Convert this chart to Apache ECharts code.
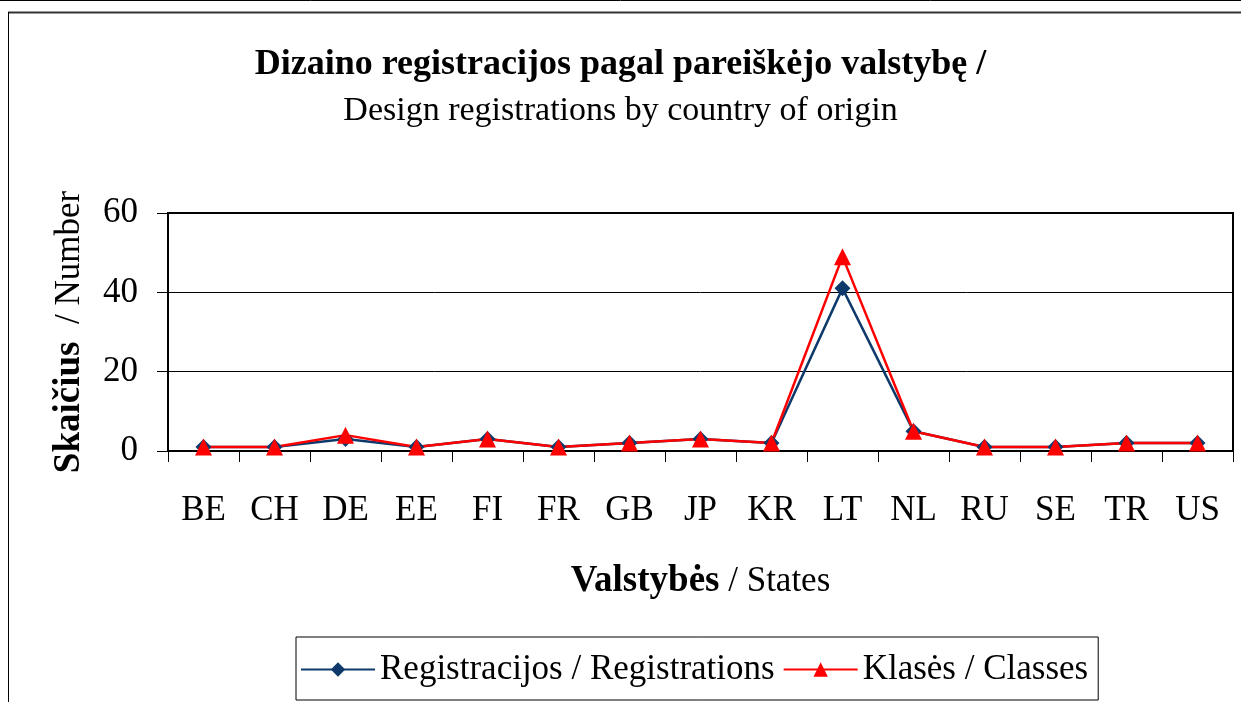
<!doctype html>
<html>
<head>
    <meta charset="utf-8">
    <title>Dizaino registracijos</title>
    <script src="https://cdn.jsdelivr.net/npm/echarts@6/dist/echarts.min.js"></script>
    <style>
        html, body { margin: 0; padding: 0; background: #fff; }
    </style>
</head>
<body>
    <div id="main" style="width: 1241px;height:702px;"></div>
</body>
<script type="text/javascript">
    // valstybes / states
    var states = ['BE', 'CH', 'DE', 'EE', 'FI', 'FR', 'GB', 'JP', 'KR', 'LT', 'NL', 'RU', 'SE', 'TR', 'US'];
    var registrations = [1, 1, 3, 1, 3, 1, 2, 3, 2, 41, 5, 1, 1, 2, 2];
    var classes = [1, 1, 4, 1, 3, 1, 2, 3, 2, 49, 5, 1, 1, 2, 2];
    var yTicks = [0, 20, 40, 60];

    var serif = '"Liberation Serif", "DejaVu Serif", serif';
    var myChart = echarts.init(document.getElementById('main'));

    var option = {
        backgroundColor: '#fff',
        animation: false,
        title: [{
            text: 'Dizaino registracijos pagal pareiškėjo valstybę /',
            left: 'center',
            top: 42,
            textStyle: { fontFamily: serif, fontSize: 36, fontWeight: 'bold', color: '#000' }
        }, {
            text: 'Design registrations by country of origin',
            left: 'center',
            top: 89,
            textStyle: { fontFamily: serif, fontSize: 34, fontWeight: 'normal', color: '#000' }
        }],
        graphic: [
            { type: 'line', shape: { x1: 0, y1: 0.5, x2: 1241, y2: 0.5 }, style: { stroke: '#000', lineWidth: 1 } },
            { type: 'line', shape: { x1: 8, y1: 12.5, x2: 1241, y2: 12.5 }, style: { stroke: '#333', lineWidth: 2 } },
            { type: 'line', shape: { x1: 8.5, y1: 12, x2: 8.5, y2: 702 }, style: { stroke: '#000', lineWidth: 1 } }
        ],
        legend: {
            top: 637,
            left: 296,
            itemWidth: 74,
            itemHeight: 18,
            itemGap: 8,
            padding: [15, 10, 13, 4],
            borderColor: '#000',
            borderWidth: 1,
            textStyle: { fontFamily: serif, fontSize: 35, color: '#000' },
            data: ['Registracijos / Registrations', 'Klasės / Classes']
        },
        grid: {
            left: 168,
            right: 8,
            top: 213,
            bottom: 251,
            show: true,
            borderColor: '#000',
            borderWidth: 2,
            containLabel: false
        },
        xAxis: {
            type: 'category',
            data: states,
            boundaryGap: true,
            name: '{b|Valstybės} / States',
            nameLocation: 'middle',
            nameGap: 112,
            nameTextStyle: {
                fontFamily: serif, fontSize: 35, color: '#000',
                rich: { b: { fontFamily: serif, fontSize: 37, fontWeight: 'bold', color: '#000' } }
            },
            axisLine: { lineStyle: { color: '#000', width: 2 } },
            axisTick: { show: true, length: 11, lineStyle: { color: '#000', width: 1 } },
            axisLabel: { fontFamily: serif, fontSize: 35, color: '#000', margin: 42, interval: 0 }
        },
        yAxis: {
            type: 'value',
            min: yTicks[0],
            max: yTicks[yTicks.length - 1],
            interval: 20,
            name: '{b|Skaičius}  / Number',
            nameLocation: 'middle',
            nameGap: 80,
            nameRotate: 90,
            nameTextStyle: {
                fontFamily: serif, fontSize: 35, color: '#000',
                rich: { b: { fontFamily: serif, fontSize: 37, fontWeight: 'bold', color: '#000' } }
            },
            axisLine: { show: true, lineStyle: { color: '#000', width: 2 } },
            axisTick: { show: true, length: 11, lineStyle: { color: '#000', width: 1 } },
            axisLabel: { fontFamily: serif, fontSize: 35, color: '#000', margin: 30 },
            splitLine: { show: true, lineStyle: { color: '#000', width: 1 } }
        },
        series: [{
            name: 'Registracijos / Registrations',
            type: 'line',
            data: registrations,
            symbol: 'diamond',
            symbolSize: 16,
            color: '#0E3A6B',
            lineStyle: { width: 2.5, color: '#0E3A6B' },
            itemStyle: { color: '#0E3A6B' }
        }, {
            name: 'Klasės / Classes',
            type: 'line',
            data: classes,
            symbol: 'triangle',
            symbolSize: 17,
            color: '#FF0000',
            lineStyle: { width: 2.5, color: '#FF0000' },
            itemStyle: { color: '#FF0000' }
        }]
    };

    myChart.setOption(option);
</script>
</html>
